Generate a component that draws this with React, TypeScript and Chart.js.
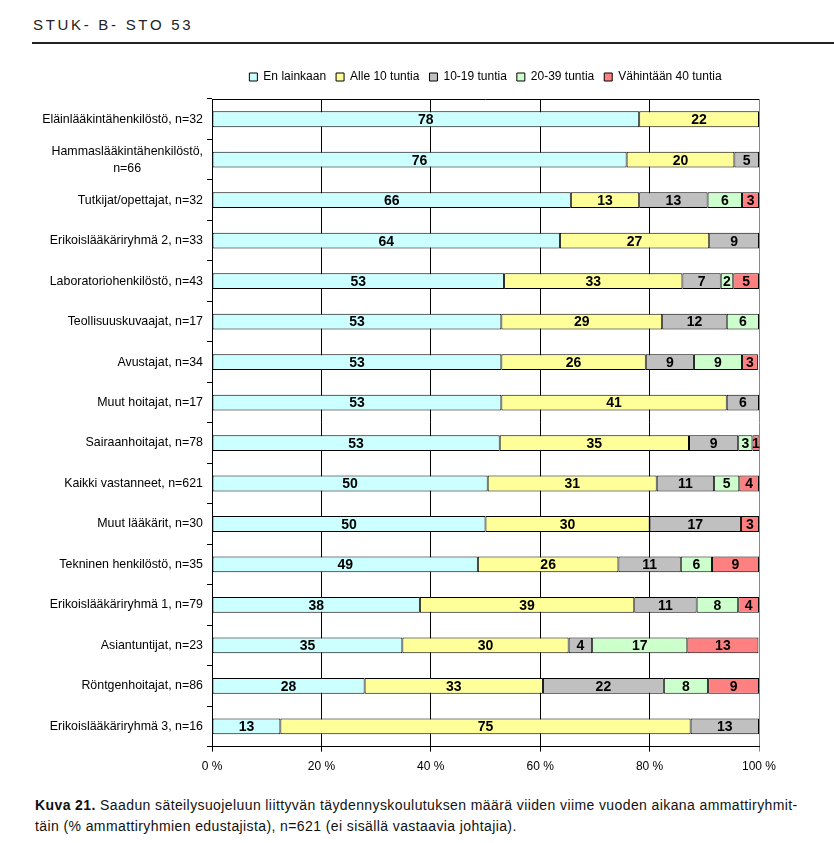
import React, { useEffect, useRef } from "react";
import { Chart, registerables } from "chart.js";

Chart.register(...registerables);

const categories: string[][] = [
  ["Eläinlääkintähenkilöstö, n=32"],
  ["Hammaslääkintähenkilöstö,", "n=66"],
  ["Tutkijat/opettajat, n=32"],
  ["Erikoislääkäriryhmä 2, n=33"],
  ["Laboratoriohenkilöstö, n=43"],
  ["Teollisuuskuvaajat, n=17"],
  ["Avustajat, n=34"],
  ["Muut hoitajat, n=17"],
  ["Sairaanhoitajat, n=78"],
  ["Kaikki vastanneet, n=621"],
  ["Muut lääkärit, n=30"],
  ["Tekninen henkilöstö, n=35"],
  ["Erikoislääkäriryhmä 1, n=79"],
  ["Asiantuntijat, n=23"],
  ["Röntgenhoitajat, n=86"],
  ["Erikoislääkäriryhmä 3, n=16"],
];

const seriesNames = ["En lainkaan", "Alle 10 tuntia", "10-19 tuntia", "20-39 tuntia", "Vähintään 40 tuntia"];

const enLainkaan = [78.1, 75.8, 65.6, 63.6, 53.4, 52.9, 52.9, 52.9, 52.6, 50.4, 50.0, 48.6, 38.0, 34.8, 27.9, 12.5];
const alle10 = [21.9, 19.7, 12.5, 27.3, 32.6, 29.4, 26.4, 41.2, 34.6, 30.9, 30.0, 25.7, 39.2, 30.4, 32.6, 75.0];
const t10_19 = [0, 4.5, 12.5, 9.1, 7.0, 11.8, 8.8, 5.9, 9.0, 10.5, 16.7, 11.4, 11.4, 4.3, 22.1, 12.5];
const t20_39 = [0, 0, 6.3, 0, 2.3, 5.9, 8.8, 0, 2.6, 4.6, 0, 5.7, 7.6, 17.4, 8.1, 0];
const vahintaan40 = [0, 0, 3.1, 0, 4.7, 0, 2.9, 0, 1.3, 3.6, 3.3, 8.6, 3.8, 13.0, 9.3, 0];

const xTicks = [0, 20, 40, 60, 80, 100];

const colors = ["#CCFFFF", "#FFFF99", "#C0C0C0", "#CCFFCC", "#FF8080"];

const FAMILY = "'Liberation Sans', Arial, sans-serif";
const TICK_SIZE = 12.4;

function centerLines(lines: string[]): string | string[] {
  if (lines.length === 1) return lines[0];
  const c = document.createElement("canvas").getContext("2d")!;
  c.font = `${TICK_SIZE}px ${FAMILY}`;
  const widths = lines.map((l) => c.measureText(l).width);
  const maxW = Math.max(...widths);
  const sp = c.measureText(" ").width;
  return lines.map((l, i) => {
    const n = Math.round((maxW - widths[i]) / 2 / sp);
    return l + " ".repeat(Math.max(0, n));
  });
}

const valueLabels = {
  id: "valueLabels",
  afterDatasetsDraw(chart: any) {
    const ctx = chart.ctx;
    ctx.save();
    ctx.font = `bold 14px ${FAMILY}`;
    ctx.fillStyle = "#000";
    ctx.textAlign = "center";
    ctx.textBaseline = "middle";
    chart.data.datasets.forEach((ds: any, di: number) => {
      const meta = chart.getDatasetMeta(di);
      meta.data.forEach((el: any, i: number) => {
        const v = ds.data[i];
        if (!v) return;
        const p = el.getProps(["x", "y", "base"], true);
        ctx.fillText(String(Math.round(v)), (p.x + p.base) / 2, p.y + 1);
      });
    });
    ctx.restore();
  },
};

const topBorder = {
  id: "topBorder",
  beforeDatasetsDraw(chart: any) {
    const { ctx, chartArea } = chart;
    ctx.save();
    ctx.strokeStyle = "#000";
    ctx.lineWidth = 1;
    ctx.beginPath();
    ctx.moveTo(chartArea.left, Math.round(chartArea.top) + 0.5);
    ctx.lineTo(chartArea.right, Math.round(chartArea.top) + 0.5);
    ctx.stroke();
    ctx.restore();
  },
};

const legendGap = {
  id: "legendGap",
  beforeInit(chart: any) {
    const legend = chart.legend;
    if (!legend) return;
    const orig = legend.fit;
    legend.fit = function () {
      orig.call(this);
      this.height += 6;
    };
  },
};

export default function App() {
  const ref = useRef<HTMLCanvasElement>(null);
  useEffect(() => {
    const seriesData = [enLainkaan, alle10, t10_19, t20_39, vahintaan40];
    const chart = new Chart(ref.current!, {
      type: "bar",
      data: {
        labels: categories.map(centerLines) as any,
        datasets: seriesNames.map((name, i) => ({
          label: name,
          data: seriesData[i],
          backgroundColor: colors[i],
          borderColor: "#000",
          borderWidth: 1,
          borderSkipped: false,
          barPercentage: 0.39,
          categoryPercentage: 1,
        })),
      },
      options: {
        indexAxis: "y",
        animation: false,
        responsive: false,
        maintainAspectRatio: false,
        layout: { padding: { left: 0, right: 75, top: 5, bottom: 7 } },
        plugins: {
          tooltip: { enabled: false },
          legend: {
            position: "top",
            fullSize: false,
            labels: {
              boxWidth: 8,
              boxHeight: 8,
              padding: 10,
              color: "#000",
              font: { family: FAMILY, size: 12 },
            },
          },
        },
        scales: {
          x: {
            stacked: true,
            min: 0,
            max: 100,
            afterBuildTicks: (scale: any) => {
              scale.ticks = xTicks.map((v) => ({ value: v }));
            },
            ticks: {
              color: "#000",
              padding: 8,
              font: { family: FAMILY, size: 12 },
              callback: (v: any) => v + " %",
              maxRotation: 0,
            },
            grid: {
              color: (c: any) => (c.tick && c.tick.value === 100 ? "#888" : "#000"),
              lineWidth: 1,
              tickLength: 5,
              drawTicks: true,
            },
            border: { color: "#000", width: 1 },
          },
          y: {
            stacked: true,
            afterFit: (scale: any) => {
              scale.width = 212;
            },
            ticks: {
              color: "#000",
              padding: 4,
              font: { family: FAMILY, size: TICK_SIZE, lineHeight: 1.35 },
              autoSkip: false,
            },
            grid: {
              offset: true,
              drawOnChartArea: false,
              drawTicks: true,
              tickLength: 5,
              color: "#000",
            },
            border: { color: "#000", width: 1 },
          },
        },
      },
      plugins: [valueLabels, topBorder, legendGap],
    });
    return () => chart.destroy();
  }, []);

  return (
    <div style={{ position: "absolute", left: 0, top: 0, width: 834, height: 843, background: "#fff", overflow: "hidden" }}>
      <div
        style={{
          position: "absolute",
          left: 33,
          top: 16,
          fontFamily: FAMILY,
          fontSize: 15,
          letterSpacing: 2.7,
          color: "#222",
          whiteSpace: "pre",
        }}
      >
        STUK- B- STO 53
      </div>
      <div style={{ position: "absolute", left: 32, top: 42, width: 802, height: 2, background: "#222" }} />
      <canvas ref={ref} width={834} height={733} style={{ position: "absolute", left: 0, top: 56 }} />
      <div
        style={{
          position: "absolute",
          left: 35,
          top: 795,
          width: 795,
          fontFamily: FAMILY,
          fontSize: 14,
          letterSpacing: 0.4,
          lineHeight: "21px",
          color: "#111",
          whiteSpace: "nowrap",
        }}
      >
        <b>Kuva 21.</b> Saadun säteilysuojeluun liittyvän täydennyskoulutuksen määrä viiden viime vuoden aikana ammattiryhmit-
        <br />
        täin (% ammattiryhmien edustajista), n=621 (ei sisällä vastaavia johtajia).
      </div>
    </div>
  );
}
